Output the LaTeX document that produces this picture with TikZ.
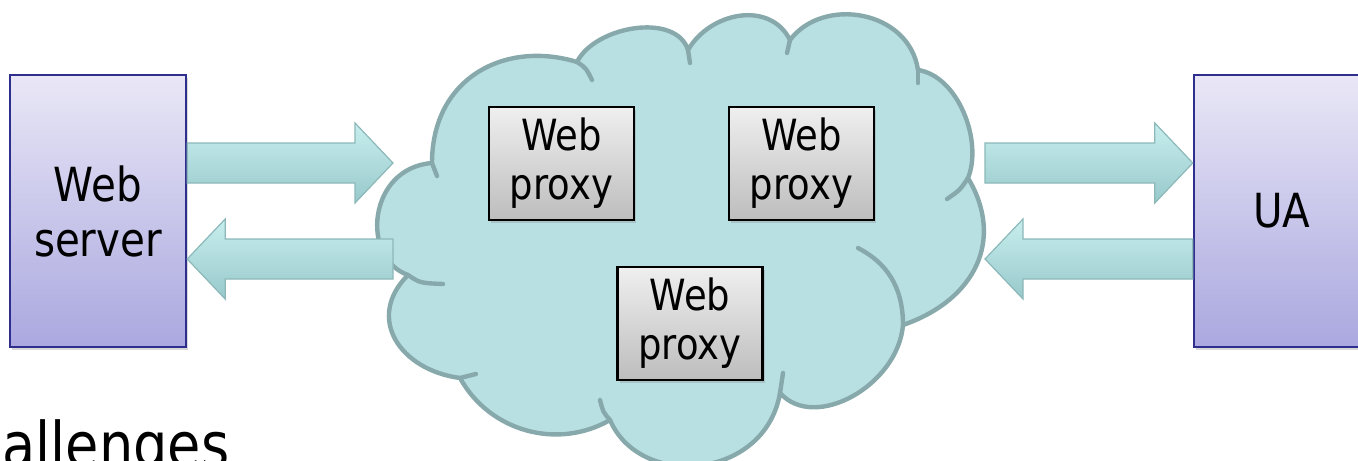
\documentclass[tikz,border=0pt]{standalone}
\usepackage{fontspec}
\setmainfont{DejaVu Sans}[FakeStretch=0.86]
\usepackage{tikz}
\usetikzlibrary{calc}
\usetikzlibrary{shadows}

\definecolor{cloudfill}{HTML}{B8E0E3}
\definecolor{cloudedge}{HTML}{87A9AB}
\definecolor{srvtop}{HTML}{E9E7F6}
\definecolor{srvbot}{HTML}{AAA8DF}
\definecolor{srvedge}{HTML}{2E2E8C}
\definecolor{proxtop}{HTML}{EFEFEF}
\definecolor{proxbot}{HTML}{BDBDBD}
\definecolor{arrtop}{HTML}{C8EEEE}
\definecolor{arrmid}{HTML}{ACDCDE}
\definecolor{arrbot}{HTML}{98C9CB}
\definecolor{arredge}{HTML}{8CB8B9}

\tikzset{
  srvbox/.style={draw=srvedge,line width=1.2pt,top color=srvtop,bottom color=srvbot,
    minimum width=88pt,minimum height=136pt,align=center,
    font=\fontsize{23.5}{27.5}\selectfont,
    drop shadow={shadow xshift=1pt,shadow yshift=-1.5pt,opacity=0.3}},
  proxbox/.style={draw=black,line width=1.2pt,top color=proxtop,bottom color=proxbot,
    minimum width=72.5pt,minimum height=56.5pt,align=center,inner sep=0pt,
    font=\fontsize{21.5}{24.5}\selectfont,
    drop shadow={shadow xshift=1pt,shadow yshift=-1.5pt,opacity=0.3}},
  cloudline/.style={draw=cloudedge,line width=2.2pt,line cap=round,line join=round},
  fatarrow/.style={draw=arredge,line width=0.6pt,top color=arrtop,middle color=arrmid,bottom color=arrbot}
}

% fat arrow from #1 to #2
\newcommand{\bigarrow}[2]{%
  \coordinate (hb) at ($(#2)!19pt!(#1)$);
  \draw[fatarrow] ($(#1)!10pt!90:(#2)$) -- ($(hb)!10pt!90:(#2)$) -- ($(hb)!20pt!90:(#2)$)
    -- (#2) -- ($(hb)!20pt!-90:(#2)$) -- ($(hb)!10pt!-90:(#2)$) -- ($(#1)!10pt!-90:(#2)$) -- cycle;
}

\begin{document}
\begin{tikzpicture}[x=0.5pt,y=-0.5pt]
\useasboundingbox (0,0) rectangle (1358,460);

% cloud
\draw[cloudline,fill=cloudfill] (432,163) .. controls (432,78) and (505,40) .. (577,62)
  .. controls (595,26) and (676,12) .. (688,50)
  .. controls (710,12) and (770,0) .. (790,40)
  .. controls (823,-4) and (909,10) .. (918,70)
  .. controls (958,76) and (983,141) .. (968,178)
  .. controls (1005,240) and (975,300) .. (903,325)
  .. controls (898,385) and (815,432) .. (780,393)
  .. controls (765,480) and (640,490) .. (610,420)
  .. controls (558,450) and (490,432) .. (460,378)
  .. controls (400,370) and (365,318) .. (408,275)
  .. controls (360,258) and (368,168) .. (432,163) -- cycle;
\draw[cloudline] (432,163) -- (437,176);
\draw[cloudline] (577,62) .. controls (586,68) .. (592,80);
\draw[cloudline] (688,50) -- (690,63);
\draw[cloudline] (790,40) -- (787,53);
\draw[cloudline] (918,70) -- (918,83);
\draw[cloudline] (968,178) .. controls (960,190) .. (947,199);
\draw[cloudline] (903,325) .. controls (903,285) and (885,262) .. (858,248);
\draw[cloudline] (780,393) -- (783,373);
\draw[cloudline] (610,420) .. controls (603,412) .. (600,400);
\draw[cloudline] (460,378) -- (476,374);
\draw[cloudline] (408,275) .. controls (420,283) .. (443,284);

% proxies
\node[proxbox] (px1) at (561.5,163.5) {Web\\proxy};
\node[proxbox] (px2) at (801.5,163.5) {Web\\proxy};
\node[proxbox] (px3) at (690,323.5) {Web\\proxy};

% end points
\node[srvbox] (ws) at (98,211) {Web\\server};
\node[srvbox] (ua) at (1282,211) {UA};

\coordinate (cl-w1) at (393,163);
\coordinate (cl-w2) at (393,259);
\coordinate (cl-e1) at (985,163);
\coordinate (cl-e2) at (985,259);

\bigarrow{$(ws.east)+(0,-48)$}{cl-w1}
\bigarrow{cl-w2}{$(ws.east)+(0,48)$}
\bigarrow{cl-e1}{$(ua.west)+(0,-48)$}
\bigarrow{$(ua.west)+(0,48)$}{cl-e2}

\node[anchor=base west,inner sep=0pt,font=\fontsize{31.5}{36}\selectfont] (chal) at (2,467) {allenges};
\end{tikzpicture}
\end{document}
